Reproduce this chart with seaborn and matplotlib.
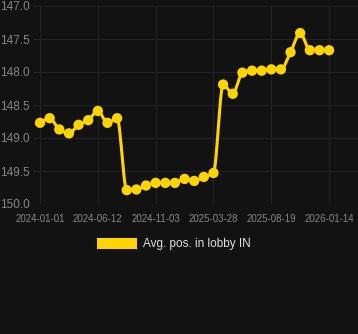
import numpy as np
import pandas as pd
import seaborn as sns
import matplotlib
matplotlib.use("Agg")
import matplotlib.pyplot as plt
from matplotlib.patches import Patch

# ---- data ----
avg_pos = [148.77, 148.70, 148.87, 148.93, 148.80, 148.73, 148.59, 148.77, 148.70,
           149.79, 149.78, 149.72, 149.68, 149.68, 149.68, 149.62, 149.65, 149.59, 149.53,
           148.19, 148.33, 148.01, 147.98, 147.98, 147.96, 147.96, 147.70, 147.41,
           147.67, 147.67, 147.67]
tick_labels = ["2024-01-01", "2024-06-12", "2024-11-03", "2025-03-28", "2025-08-19", "2026-01-14"]
y_ticks = [147.0, 147.5, 148.0, 148.5, 149.0, 149.5, 150.0]
series_name = "Avg. pos. in lobby IN"

BG = "#121212"
GRID = "#242424"
TXT = "#858585"
GOLD = "#FFD400"

sns.set_theme(style="dark")
plt.rcParams["font.family"] = ["Liberation Sans", "DejaVu Sans"]

idx = np.arange(len(avg_pos), dtype=float)
y = np.array(avg_pos)
df = pd.DataFrame({"idx": idx, "pos": y})


def pchip(x, y, n=24):
    h = np.diff(x)
    delta = np.diff(y) / h
    d = np.zeros_like(y)
    for k in range(1, len(y) - 1):
        if delta[k - 1] * delta[k] <= 0:
            d[k] = 0.0
        else:
            w1 = 2 * h[k] + h[k - 1]
            w2 = h[k] + 2 * h[k - 1]
            d[k] = (w1 + w2) / (w1 / delta[k - 1] + w2 / delta[k])
    d[0] = delta[0]
    d[-1] = delta[-1]
    xs, ys = [], []
    for k in range(len(x) - 1):
        t = np.linspace(0, 1, n, endpoint=(k == len(x) - 2))
        h00 = 2 * t**3 - 3 * t**2 + 1
        h10 = t**3 - 2 * t**2 + t
        h01 = -2 * t**3 + 3 * t**2
        h11 = t**3 - t**2
        xs.append(x[k] + t * h[k])
        ys.append(h00 * y[k] + h10 * h[k] * d[k] + h01 * y[k + 1] + h11 * h[k] * d[k + 1])
    return np.concatenate(xs), np.concatenate(ys)


sx, sy = pchip(idx, y)
curve = pd.DataFrame({"idx": sx, "pos": sy})

fig = plt.figure(figsize=(3.58, 3.34), dpi=100, facecolor=BG)
ax = fig.add_axes([33 / 358, 130 / 334, 325 / 358, 198 / 334])
ax.set_facecolor(BG)

sns.lineplot(data=curve, x="idx", y="pos", ax=ax, color=GOLD, linewidth=2.2,
             sort=False, estimator=None, zorder=3)
sns.scatterplot(data=df, x="idx", y="pos", ax=ax, color=GOLD, s=55,
                edgecolor="none", linewidth=0, zorder=4)

ax.set_xlim(-0.73, 33.0)
ax.set_ylim(150.0, 147.0)
ax.set_yticks(y_ticks)
ax.set_yticklabels([f"{v:.1f}" for v in y_ticks])
ax.set_xticks(idx[::6])
ax.set_xticklabels(tick_labels)
ax.set_xlabel("")
ax.set_ylabel("")

ax.grid(True, color=GRID, linewidth=0.8)
for s in ax.spines.values():
    s.set_visible(False)
ax.tick_params(axis="x", colors=GRID, length=4.5, width=0.8, pad=3, labelsize=7, labelcolor=TXT)
ax.tick_params(axis="y", length=0, pad=2.5, labelsize=8.5, labelcolor=TXT)

handles = [Patch(facecolor=GOLD, edgecolor="none", label=series_name)]
fig.legend(handles=handles, loc="center", bbox_to_anchor=(0.485, 0.269),
           frameon=False, fontsize=8.5, labelcolor="#e0e0e0",
           handlelength=3.4, handleheight=1.05, handletextpad=0.5)

fig.savefig("out.png", dpi=100, facecolor=BG)
